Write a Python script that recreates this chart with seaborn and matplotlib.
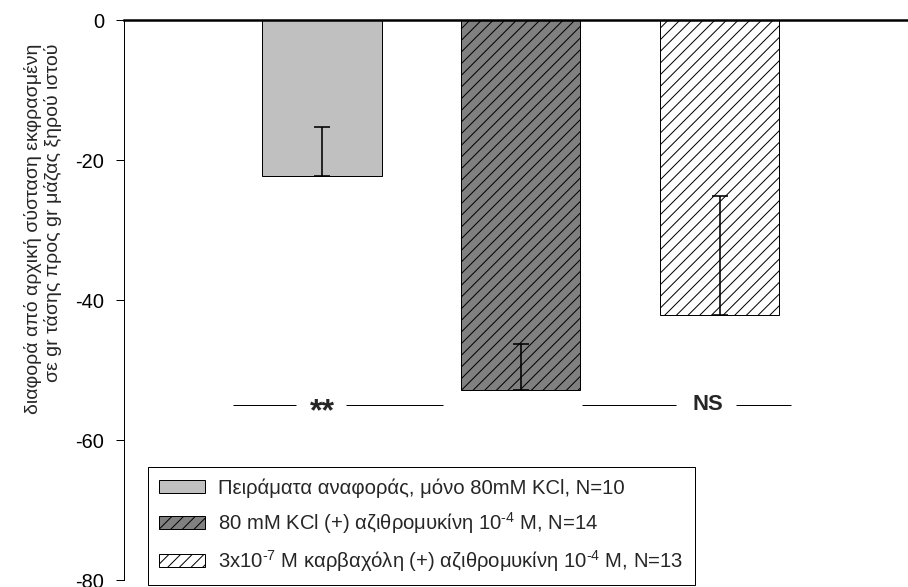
import matplotlib
matplotlib.use("Agg")
import matplotlib.pyplot as plt
from matplotlib.patches import Patch
import seaborn as sns
import pandas as pd

# ---- data -------------------------------------------------------------
groups = [
    "Πειράματα αναφοράς, μόνο 80mM KCl, N=10",
    "80 mM KCl (+) αζιθρομυκίνη 10$^{\\text{-4}}$ M, N=14",
    "3x10$^{\\text{-7}}$ M καρβαχόλη (+) αζιθρομυκίνη 10$^{\\text{-4}}$ M, N=13",
]
means = [-22.3, -52.9, -42.1]
sem = [7.0, 6.6, 17.0]
fills = ["#c0c0c0", "#808080", "#ffffff"]
hatches = ["", "//", "//"]
sig_labels = ["**", "NS"]
sig_level = -55.0
yticks = [0, -20, -40, -60, -80]
ylabel = "διαφορά από αρχική σύσταση εκφρασμένη\nσε gr τάσης προς gr μάζας ξηρού ιστού"

# ---- style ------------------------------------------------------------
DPI = 70
W, H = 908, 587


def pt(px):
    """pixels -> points at the working dpi"""
    return px * 72.0 / DPI


sns.set_style("ticks")
plt.rcParams["font.family"] = ["Liberation Sans", "DejaVu Sans"]
plt.rcParams["mathtext.fontset"] = "custom"
plt.rcParams["mathtext.rm"] = "Liberation Sans"
plt.rcParams["mathtext.it"] = "Liberation Sans:italic"
plt.rcParams["mathtext.bf"] = "Liberation Sans:bold"
plt.rcParams["axes.unicode_minus"] = False
plt.rcParams["hatch.linewidth"] = pt(1.0)

fig = plt.figure(figsize=(W / DPI, H / DPI), dpi=DPI)
ax = fig.add_axes([124 / W, 1 - 580 / H, (W - 124) / W, 560 / H])

df = pd.DataFrame({"group": groups, "value": means})
sns.barplot(
    data=df, x="group", y="value", hue="group",
    palette=dict(zip(groups, fills)), saturation=1,
    width=0.6, edgecolor="black", linewidth=pt(1.0),
    errorbar=None, legend=False, ax=ax,
)
for patch, h in zip(ax.patches, hatches):
    patch.set_hatch(h)

# one-sided error bars pointing towards zero
ax.errorbar(
    range(len(means)), means, yerr=[[0] * len(sem), sem],
    fmt="none", ecolor="black", elinewidth=pt(1.6),
    capsize=pt(8.5), capthick=pt(1.6), zorder=5,
)

# significance markers
ax.hlines(sig_level, -0.447, -0.13, color="black", lw=pt(1.0))
ax.hlines(sig_level, 0.12, 0.61, color="black", lw=pt(1.0))
ax.text(0.0, sig_level - 2.2, sig_labels[0], ha="center", va="baseline",
        fontsize=pt(32), fontweight="bold")
ax.hlines(sig_level, 1.31, 1.78, color="black", lw=pt(1.0))
ax.hlines(sig_level, 2.085, 2.36, color="black", lw=pt(1.0))
ax.text(1.94, sig_level, sig_labels[1], ha="center", va="center",
        fontsize=pt(22), fontweight="bold")

ax.set_xlim(-0.996, 2.948)
ax.set_ylim(-80, 0)
ax.set_yticks(yticks)
ax.set_xticks([])
ax.set_xlabel("")
ax.set_ylabel("")
ax.tick_params(axis="y", direction="out", length=pt(8), width=pt(1.0),
               labelsize=pt(20), pad=pt(12), color="black", labelcolor="black")
ax.spines["right"].set_visible(False)
ax.spines["bottom"].set_visible(False)
ax.spines["left"].set_linewidth(pt(1.0))
ax.spines["left"].set_color("black")
ax.spines["top"].set_linewidth(pt(2.5))
ax.spines["top"].set_color("black")
ax.patch.set_alpha(0)

fig.text(43 / W, 1 - 44 / H, ylabel, rotation=90, ha="center", va="top",
         multialignment="right", fontsize=pt(19.5))

handles = [Patch(facecolor=f, edgecolor="black", hatch=h, linewidth=pt(1.0))
           for f, h in zip(fills, hatches)]
fs = 20.3
leg = fig.legend(
    handles, groups, loc="upper left",
    bbox_to_anchor=(148 / W, 1 - 467 / H), bbox_transform=fig.transFigure,
    frameon=True, fancybox=False, shadow=False, framealpha=1,
    edgecolor="black", fontsize=pt(fs), borderaxespad=0,
    handlelength=46 / fs, handleheight=13 / fs, handletextpad=13 / fs,
    borderpad=0.55, labelspacing=0.6,
)
leg.get_frame().set_linewidth(pt(1.0))

fig.savefig("out.png", dpi=DPI, facecolor="white")
